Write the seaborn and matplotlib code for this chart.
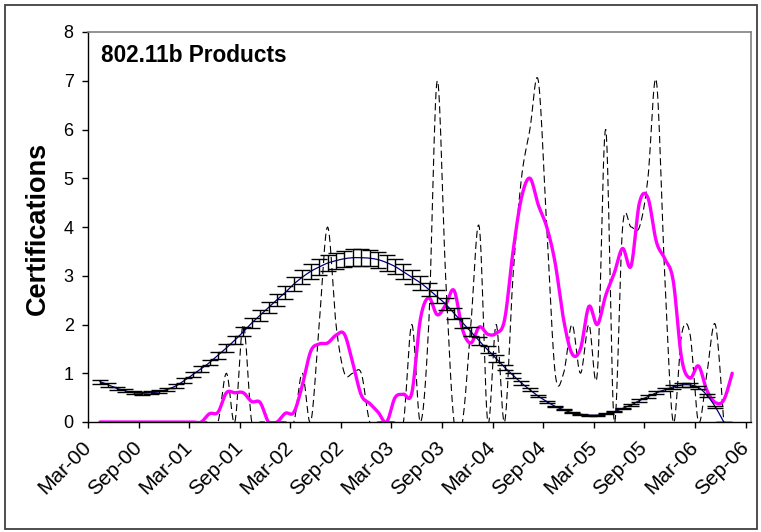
import numpy as np
import pandas as pd
import matplotlib
matplotlib.use("Agg")
import matplotlib.pyplot as plt
import seaborn as sns
from matplotlib.patches import Rectangle

# ---------------- data ----------------
tick_labels = ["Mar-00", "Sep-00", "Mar-01", "Sep-01", "Mar-02", "Sep-02", "Mar-03",
               "Sep-03", "Mar-04", "Sep-04", "Mar-05", "Sep-05", "Mar-06", "Sep-06"]

# months after Mar-00 for each monthly point
count_months = list(range(1, 76))
monthly_counts = [0, 0, 0, 0, 0, 0, 0, 0, 0, 0, 0, 0, 0, 0, 0,
                  1, 0, 2, 0, 0, 0, 0, 0, 0, 1, 0, 2, 4, 2, 1,
                  1, 1, 0, 0, 0, 0, 0, 2, 0, 2, 7, 3, 0, 0, 2,
                  4, 0, 2, 0, 3, 5, 6, 7, 4, 1, 1, 2, 1, 2, 1,
                  6, 0, 4, 4, 4, 5, 7, 3, 0, 1.8, 1.8, 0, 1, 2, 0]

avg_months = list(range(1, 77))
moving_average = [0, 0, 0, 0, 0, 0, 0, 0, 0, 0, 0, 0, 0, 0.17, 0.2,
                  0.6, 0.6, 0.6, 0.42, 0.4, 0.0, 0.0, 0.18, 0.2, 0.75,
                  1.45, 1.6, 1.62, 1.78, 1.8, 1.2, 0.55, 0.38, 0.2, 0.0,
                  0.5, 0.57, 0.6, 2.1, 2.55, 2.2, 2.4, 2.7, 1.9, 1.62,
                  1.95, 1.8, 1.82, 2.1, 3.5, 4.6, 5.0, 4.45, 4.0, 3.26,
                  2.1, 1.4, 1.5, 2.37, 2.0, 2.6, 3.05, 3.56, 3.2, 4.5,
                  4.6, 3.7, 3.35, 2.9, 1.3, 0.9, 1.15, 0.65, 0.4, 0.45, 1.0]

trend_months = list(range(1, 76))
trend = [0.83, 0.76, 0.69, 0.64, 0.60, 0.59, 0.60, 0.62, 0.67, 0.74,
         0.85, 0.97, 1.09, 1.22, 1.37, 1.52, 1.68, 1.85, 2.03, 2.19,
         2.35, 2.51, 2.66, 2.83, 2.97, 3.09, 3.18, 3.26, 3.31, 3.35,
         3.37, 3.37, 3.36, 3.33, 3.27, 3.19, 3.08, 2.97, 2.86, 2.72,
         2.57, 2.42, 2.23, 2.04, 1.85, 1.66, 1.48, 1.30, 1.12, 0.96,
         0.80, 0.66, 0.53, 0.42, 0.32, 0.25, 0.19, 0.16, 0.14, 0.14,
         0.17, 0.21, 0.28, 0.35, 0.44, 0.52, 0.60, 0.66, 0.72, 0.76,
         0.76, 0.71, 0.55, 0.31, 0.0]
error_pct = 0.05

# point sits a little into its month on the date axis
POINT_OFFSET = 0.42


def smooth(x, y, n=14):
    """Excel-style smoothed line (Catmull-Rom Bezier) for drawing."""
    P = np.column_stack([np.asarray(x, float), np.asarray(y, float)])
    E = np.vstack([P[0], P, P[-1]])
    t = np.linspace(0, 1, n, endpoint=False)[:, None]
    segs = []
    for i in range(len(P) - 1):
        p0, p1, p2, p3 = E[i], E[i + 1], E[i + 2], E[i + 3]
        c1 = p1 + (p2 - p0) / 6.0
        c2 = p2 - (p3 - p1) / 6.0
        segs.append((1 - t) ** 3 * p1 + 3 * (1 - t) ** 2 * t * c1
                    + 3 * (1 - t) * t ** 2 * c2 + t ** 3 * p2)
    segs.append(P[-1:])
    S = np.vstack(segs)
    return S[:, 0], S[:, 1]


sns.set_theme(style="white")
plt.rcParams["font.family"] = ["Liberation Sans", "DejaVu Sans"]

W, H = 761, 532
fig = plt.figure(figsize=(W / 100, H / 100), dpi=100)
L, R, T, B = 88, 751, 32, 422
ax = fig.add_axes([L / W, 1 - B / H, (R - L) / W, (B - T) / H])

# dashed monthly counts
cx = np.array(count_months) + POINT_OFFSET
sx, sy = smooth(cx, monthly_counts)
d1 = pd.DataFrame({"x": sx, "y": sy})
sns.lineplot(data=d1, x="x", y="y", ax=ax, sort=False, estimator=None,
             color="black", linewidth=0.8, linestyle=(0, (6.5, 3.5)))

# magenta moving average
ax_ = np.array(avg_months) + POINT_OFFSET
mx, my = smooth(ax_, moving_average)
d2 = pd.DataFrame({"x": mx, "y": my})
sns.lineplot(data=d2, x="x", y="y", ax=ax, sort=False, estimator=None,
             color="#FF00FF", linewidth=2.4)

# trend with 5% error bars
tx = np.array(trend_months) + POINT_OFFSET
ty = np.array(trend)
qx, qy = smooth(tx, ty)
d3 = pd.DataFrame({"x": qx, "y": qy})
sns.lineplot(data=d3, x="x", y="y", ax=ax, sort=False, estimator=None,
             color="#000080", linewidth=0.9)
ax.errorbar(tx, ty, yerr=ty * error_pct, fmt="none", ecolor="black",
            elinewidth=1.0, capsize=5.5, capthick=1.0, zorder=4)

ax.set_xlim(0, 78.65)
ax.set_ylim(0, 8)
ax.set_xticks(np.arange(0, 79, 6))
ax.set_xticklabels(tick_labels, rotation=45, ha="right", va="center",
                   rotation_mode="anchor", fontsize=15)
ax.set_yticks(range(0, 9))
ax.set_yticklabels([str(v) for v in range(0, 9)], fontsize=13)
ax.tick_params(axis="both", direction="out", length=4.3, width=1.0,
               color="black", bottom=True, left=True, labelcolor="black")
ax.tick_params(axis="y", pad=6)
ax.tick_params(axis="x", pad=12)
ax.set_xlabel("")
ax.set_ylabel("")
for s in ["left", "bottom"]:
    ax.spines[s].set_color("black")
    ax.spines[s].set_linewidth(1.0)
for s in ["top", "right"]:
    ax.spines[s].set_color("#808080")
    ax.spines[s].set_linewidth(1.2)
ax.grid(False)

ax.text((101 - L) / (R - L), (B - 56) / (B - T), "802.11b Products",
        transform=ax.transAxes, ha="left", va="center", fontsize=16.3,
        fontweight="bold", color="black")
fig.text(38 / W, 1 - 228 / H, "Certifications", rotation=90, ha="center",
         va="center", fontsize=19.5, fontweight="bold", color="black")

fig.add_artist(Rectangle((5 / W, 1 - 529 / H), (757 - 5) / W, (529 - 5) / H,
                         transform=fig.transFigure, fill=False,
                         edgecolor="#404040", linewidth=1.3))

fig.savefig("out.png", dpi=100)
